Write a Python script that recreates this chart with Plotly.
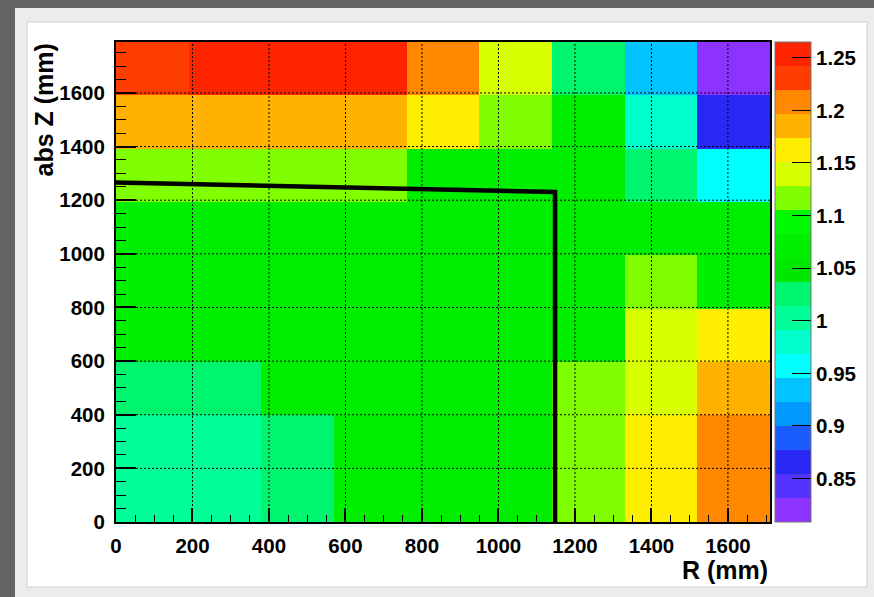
import plotly.graph_objects as go

# ---------------- data ----------------
r_edges = [0, 190, 380, 570, 760, 950, 1140, 1330, 1520, 1710]
z_edges = [0, 199, 398, 597, 796, 995, 1194, 1393, 1592, 1790]

# ratio per cell, rows from bottom (abs Z 0-200) to top
ratio = [
    [1.003, 1.004, 1.026, 1.071, 1.070, 1.072, 1.117, 1.162, 1.208],
    [1.002, 1.003, 1.025, 1.072, 1.071, 1.070, 1.118, 1.161, 1.207],
    [1.025, 1.026, 1.070, 1.071, 1.072, 1.071, 1.116, 1.139, 1.185],
    [1.071, 1.072, 1.070, 1.071, 1.072, 1.071, 1.070, 1.140, 1.163],
    [1.070, 1.071, 1.072, 1.071, 1.070, 1.071, 1.072, 1.117, 1.071],
    [1.071, 1.070, 1.071, 1.072, 1.071, 1.070, 1.071, 1.072, 1.071],
    [1.117, 1.118, 1.116, 1.117, 1.071, 1.072, 1.070, 1.025, 0.957],
    [1.185, 1.186, 1.184, 1.185, 1.162, 1.117, 1.071, 0.980, 0.866],
    [1.231, 1.254, 1.255, 1.253, 1.208, 1.139, 1.025, 0.934, 0.820],
]
z_min, z_max = 0.8087, 1.265

line_r = [0, 1148, 1148]
line_z = [1266, 1231, 0]

palette = [
    "#8c33ff", "#5533ff", "#2828f5", "#1a5cff", "#0099ff",
    "#00c3ff", "#00ffff", "#00ffcc", "#00ff99", "#00f56e",
    "#00e800", "#00ee00", "#00f800", "#80ff00", "#d7ff00",
    "#ffee00", "#ffb300", "#ff8800", "#ff3d00", "#ff2400",
]

cbar_ticks = [0.85, 0.9, 0.95, 1.0, 1.05, 1.1, 1.15, 1.2, 1.25]
cbar_labels = ["0.85", "0.9", "0.95", "1", "1.05", "1.1", "1.15", "1.2", "1.25"]
x_ticks = [0, 200, 400, 600, 800, 1000, 1200, 1400, 1600]
y_ticks = [0, 200, 400, 600, 800, 1000, 1200, 1400, 1600]

x_title = "R (mm)"
y_title = "abs Z (mm)"

# ---------------- layout geometry ----------------
W, H = 874, 597
L, R, T, B = 116, 104, 42, 75
PW = W - L - R
PH = H - T - B


def px(x):
    return (x - L) / PW


def py(y):
    return (H - B - y) / PH


n = len(palette)
colorscale = []
for i, c in enumerate(palette):
    colorscale.append([i / n, c])
    colorscale.append([(i + 1) / n, c])

FONT = "Liberation Sans, Arial, Helvetica, sans-serif"
tickfont = dict(family=FONT, size=20.5, color="black", weight="bold")
cbfont = dict(family=FONT, size=20.5, color="black", weight="bold")
titlefont = dict(family=FONT, size=25, color="black", weight="bold")

fig = go.Figure()

fig.add_trace(go.Heatmap(
    x=r_edges, y=z_edges, z=ratio,
    zmin=z_min, zmax=z_max,
    colorscale=colorscale,
    colorbar=dict(
        thicknessmode="pixels", thickness=36,
        lenmode="pixels", len=PH,
        x=px(775), xanchor="left", xpad=0,
        y=0.5, yanchor="middle", ypad=0,
        outlinewidth=1, outlinecolor="#777777",
        tickmode="array", tickvals=cbar_ticks, ticktext=cbar_labels,
        ticks="inside", ticklen=19, tickwidth=1.2, tickcolor="black",
        tickfont=cbfont,
    ),
    hoverinfo="skip",
))

fig.add_trace(go.Scatter(
    x=line_r, y=line_z, mode="lines",
    line=dict(color="black", width=4.5),
    showlegend=False, hoverinfo="skip",
))

shapes = [
    # dark textured border strips (left and top)
    dict(type="rect", xref="paper", yref="paper", layer="below",
         x0=px(-5), x1=px(15), y0=py(-5), y1=py(605),
         fillcolor="#646464", line=dict(width=0)),
    dict(type="rect", xref="paper", yref="paper", layer="below",
         x0=px(-5), x1=px(880), y0=py(-5), y1=py(8),
         fillcolor="#646464", line=dict(width=0)),
    # white slide panel
    dict(type="rect", xref="paper", yref="paper", layer="below",
         x0=px(27), x1=px(867), y0=py(22), y1=py(587),
         fillcolor="white", line=dict(color="#cfcfcf", width=1)),
]
# dotted grid drawn above the heatmap
for xv in x_ticks[1:]:
    shapes.append(dict(type="line", xref="x", yref="paper", layer="above",
                       x0=xv, x1=xv, y0=0, y1=1,
                       line=dict(color="black", width=1, dash="2px,2px")))
for yv in y_ticks[1:]:
    shapes.append(dict(type="line", xref="paper", yref="y", layer="above",
                       x0=0, x1=1, y0=yv, y1=yv,
                       line=dict(color="black", width=1, dash="2px,2px")))

axis_common = dict(
    showline=True, linecolor="black", linewidth=2, mirror=True,
    showgrid=False, zeroline=False,
    ticks="inside", tickcolor="black", tickwidth=1.5,
    tickfont=tickfont, layer="above traces",
    tickmode="array", automargin=False,
)

fig.update_layout(
    width=W, height=H,
    margin=dict(l=L, r=R, t=T, b=B, pad=0, autoexpand=False),
    paper_bgcolor="#ececec",
    plot_bgcolor="white",
    showlegend=False,
    shapes=shapes,
    xaxis=dict(range=[0, r_edges[-1]], tickvals=x_ticks, ticklen=14,
               minor=dict(ticks="inside", ticklen=7, dtick=50, tick0=0,
                          tickcolor="black", tickwidth=1),
               ticklabelstandoff=4, **axis_common),
    yaxis=dict(range=[0, z_edges[-1]], tickvals=y_ticks, ticklen=20,
               minor=dict(ticks="inside", ticklen=10, dtick=50, tick0=0,
                          tickcolor="black", tickwidth=1),
               ticklabelstandoff=5, **axis_common),
    annotations=[
        dict(text=x_title, xref="paper", yref="paper", x=1, y=py(570),
             xanchor="right", yanchor="middle", showarrow=False,
             font=titlefont),
        dict(text=y_title, xref="paper", yref="paper", x=px(43), y=1,
             xanchor="center", yanchor="top", textangle=-90, showarrow=False,
             font=titlefont),
    ],
)

fig.write_html(
    "out.html",
    config={"displayModeBar": False},
    post_script=("document.body.style.margin='0';"
                 "document.body.style.overflow='hidden';"
                 "document.documentElement.style.overflow='hidden';"),
)
